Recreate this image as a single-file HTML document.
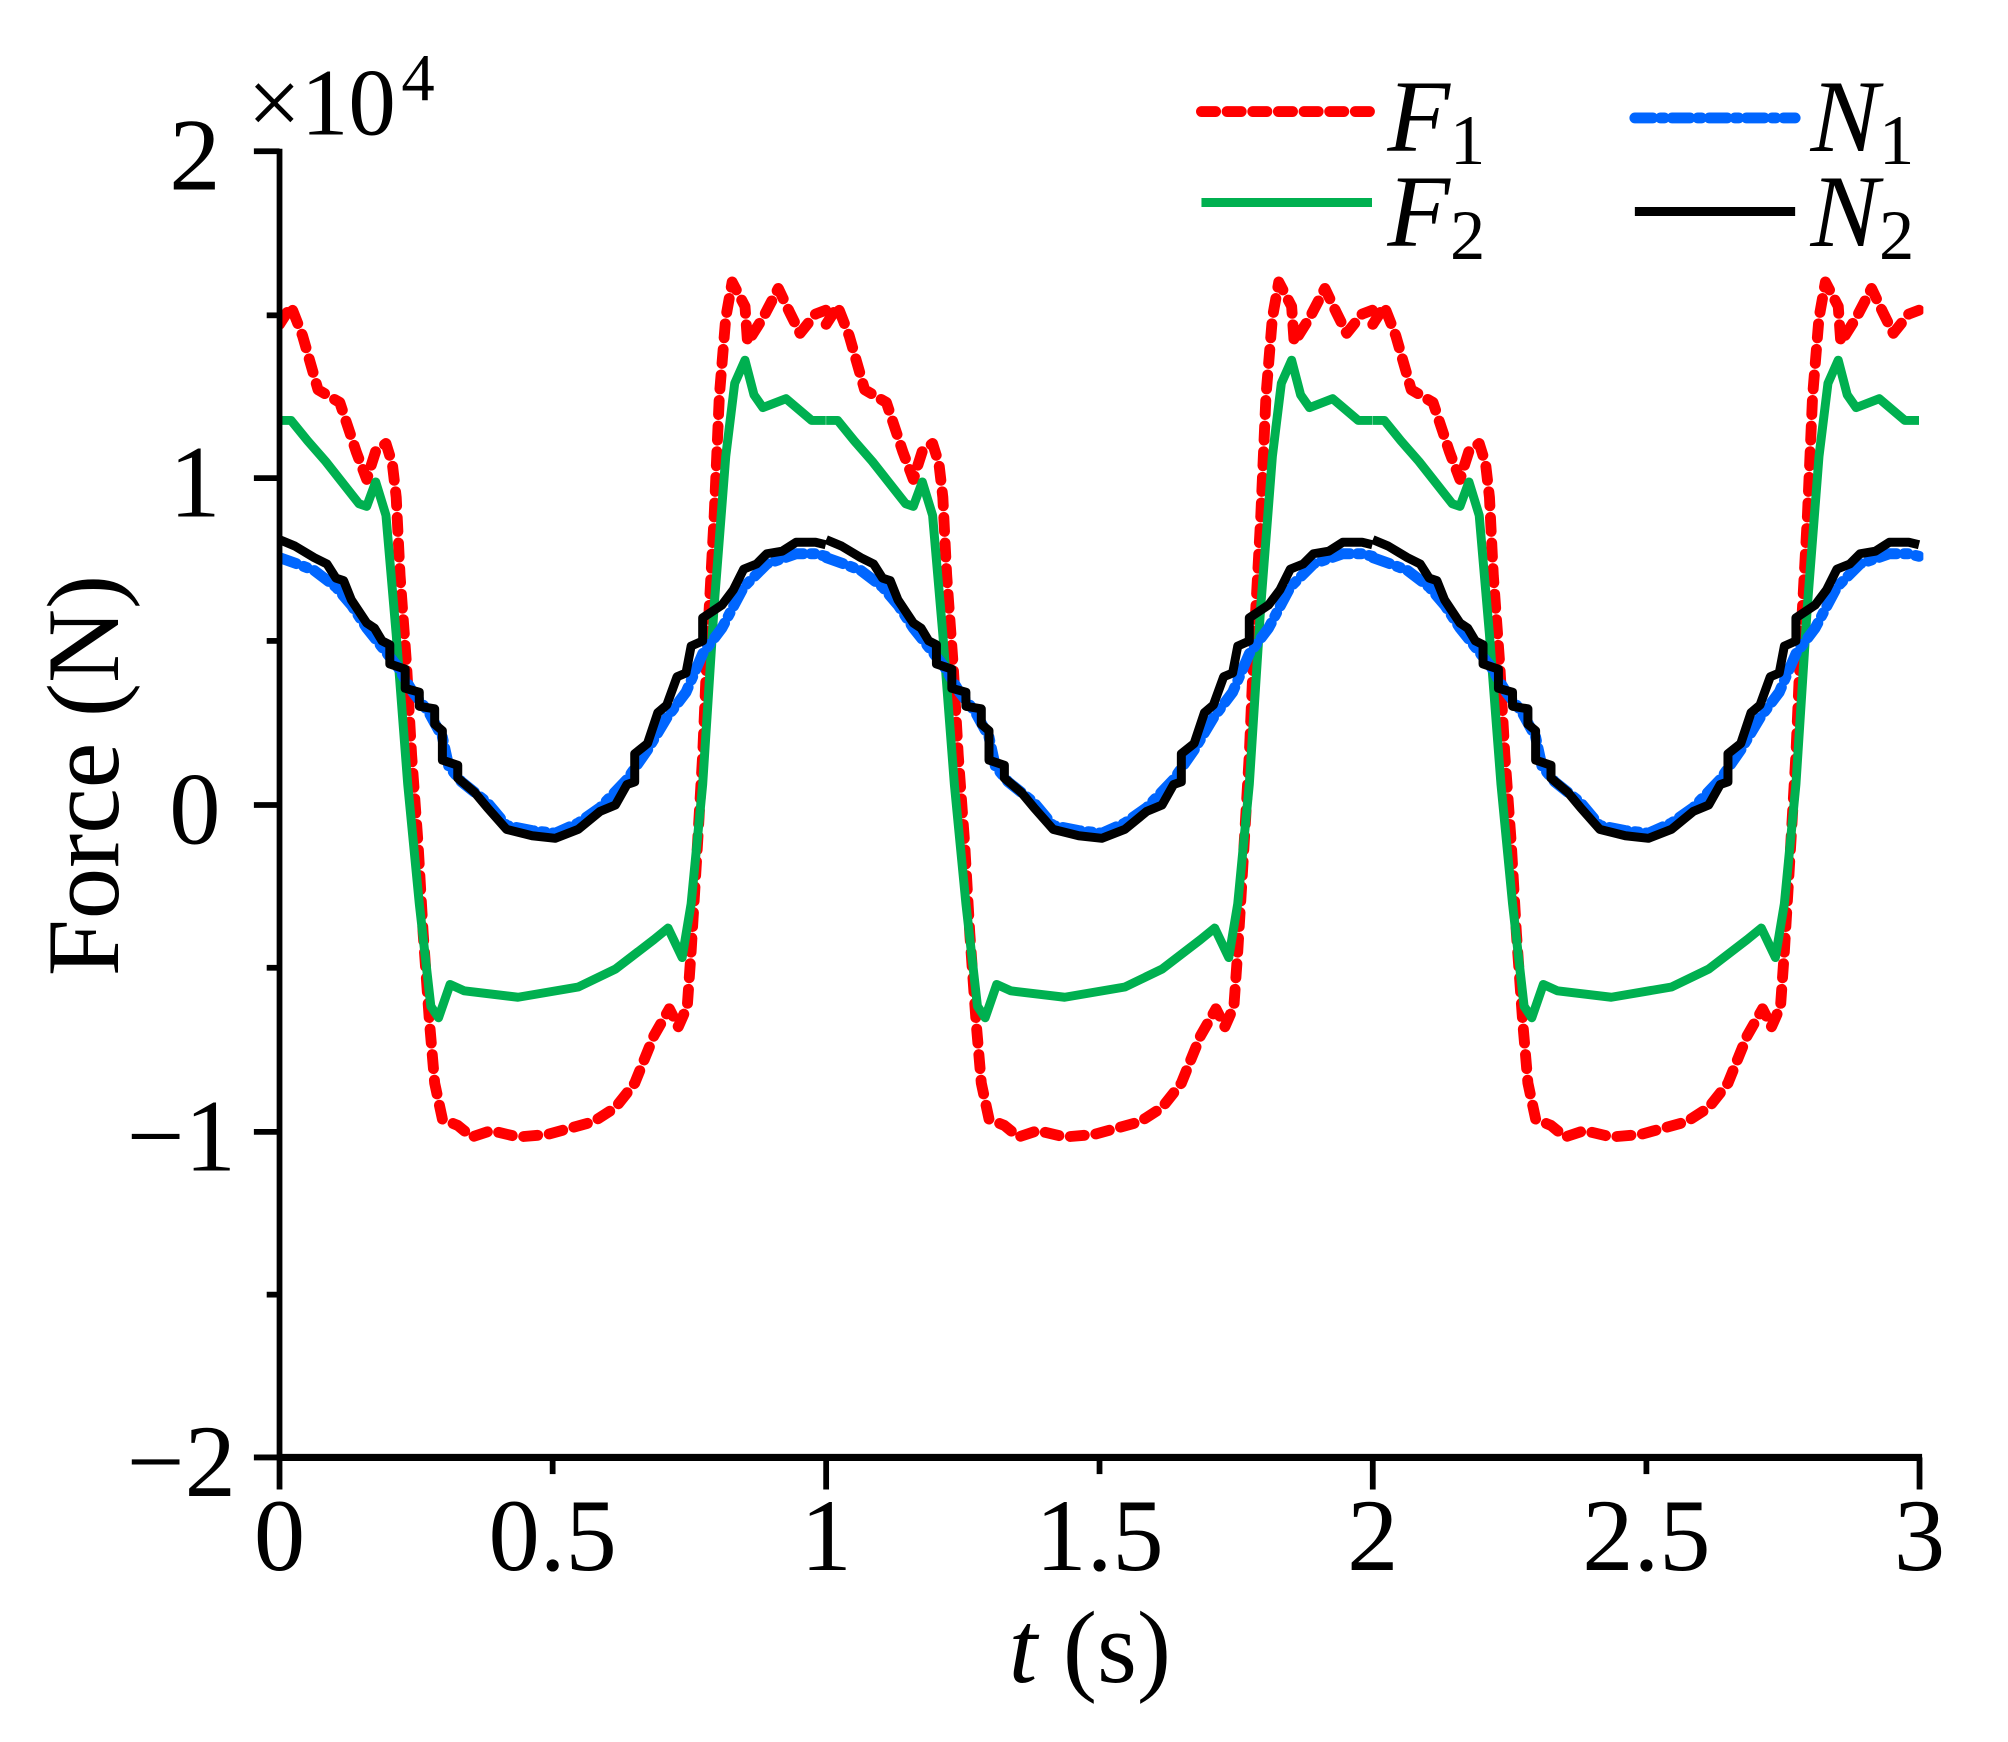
<!DOCTYPE html>
<html><head><meta charset="utf-8"><style>
html,body{margin:0;padding:0;background:#fff;}
svg{display:block;font-family:"Liberation Serif","Times New Roman",Times,serif;}
text{font-family:"Liberation Serif","Times New Roman",Times,serif;fill:#000;}
</style></head><body>
<svg width="2008" height="1742" viewBox="0 0 1566 1359" preserveAspectRatio="none" xmlns="http://www.w3.org/2000/svg">
<defs>
<clipPath id="c"><rect x="216" y="100" width="1284" height="1040"/></clipPath>
<polyline id="red" fill="none" stroke="#ff0000" stroke-width="8.5" stroke-dasharray="11 9" stroke-linecap="round" stroke-linejoin="round" points="218,253 227,239 236,262 248,304 265,314 278,353 286,374 293,352 301,346 306,362 309,388 312,449 317,518 321,589 326,658 330,728 335,798 339,845 345,873 357,878 368,887 383,882 404,887 427,885 463,875 480,864 495,845 510,808 522,787 529,801 536,785 539,742 544,658 548,589 552,495 557,402 561,309 566,248 571,220 581,239 583,267 595,248 607,225 616,244 624,260 636,245 644,242"/>
<polyline id="green" fill="none" stroke="#00b050" stroke-width="7" stroke-linejoin="round" points="218,328 227,328 240,344 254,360 280,393 286,395 293,376 301,402 309,495 318,612 327,705 336,785 342,794 351,768 362,773 404,778 451,770 480,756 510,733 521,724 532,747 539,705 548,612 557,472 566,356 573,299 581,281 588,308 595,318 613,311 633,328 644,328"/>
<polyline id="black" fill="none" stroke="#000" stroke-width="7" stroke-linejoin="round" points="218,421 230,426 245,435 255,440 262,451 268,453 274,468 286,486 292,490 298,500 304,503 304,518 316,522 316,537 327,540 327,551 339,553 339,565 345,570 345,593 357,597 357,607 370,618 380,630 395,647 415,652 433,654 451,647 468,633 480,628 489,612 495,610 495,588 505,580 513,556 520,550 528,528 535,525 539,504 548,500 548,482 563,472 572,460 580,444 590,440 598,432 610,430 621,423 636,423 644,425"/>
<polyline id="blue" fill="none" stroke="#0066ff" stroke-width="8.5" stroke-dasharray="14 6 3 6" stroke-linecap="round" stroke-linejoin="round" points="218,435 232,440 245,445 262,458 274,472 286,490 298,505 310,520 322,540 334,555 345,575 350,598 360,610 380,626 395,644 415,648 433,650 451,642 468,630 489,608 505,585 520,560 535,540 548,510 563,490 580,458 598,440 621,432 636,432 644,434"/>
<g id="per"><use href="#red"/><use href="#green"/><use href="#blue"/><use href="#black"/></g>
</defs>
<g clip-path="url(#c)">
<use href="#per"/>
<use href="#per" x="426.3"/>
<use href="#per" x="852.6"/>
</g>
<line x1="218" y1="116" x2="218" y2="1139" stroke="#000" stroke-width="4.5"/>
<line x1="216" y1="1137" x2="1499" y2="1137" stroke="#000" stroke-width="5.5"/>
<g stroke="#000" stroke-width="4.5">
<line x1="198" y1="118" x2="218" y2="118"/>
<line x1="198" y1="373" x2="218" y2="373"/>
<line x1="198" y1="628" x2="218" y2="628"/>
<line x1="198" y1="883" x2="218" y2="883"/>
<line x1="198" y1="1137" x2="218" y2="1137"/>
<line x1="208" y1="246" x2="218" y2="246"/>
<line x1="208" y1="500" x2="218" y2="500"/>
<line x1="208" y1="755" x2="218" y2="755"/>
<line x1="208" y1="1010" x2="218" y2="1010"/>
<line x1="218" y1="1137" x2="218" y2="1162"/>
<line x1="644.3" y1="1137" x2="644.3" y2="1162"/>
<line x1="1070.6" y1="1137" x2="1070.6" y2="1162"/>
<line x1="1497" y1="1137" x2="1497" y2="1162"/>
<line x1="431" y1="1137" x2="431" y2="1150"/>
<line x1="857.5" y1="1137" x2="857.5" y2="1150"/>
<line x1="1284" y1="1137" x2="1284" y2="1150"/>
</g>
<g font-size="80" text-anchor="end">
<text x="172" y="148">2</text>
<text x="172" y="403">1</text>
<text x="172" y="658">0</text>
<text x="184" y="913">−1</text>
<text x="184" y="1167">−2</text>
</g>
<g font-size="80" text-anchor="middle">
<text x="218" y="1225">0</text>
<text x="431" y="1225">0.5</text>
<text x="644.3" y="1225">1</text>
<text x="857.5" y="1225">1.5</text>
<text x="1070.6" y="1225">2</text>
<text x="1284" y="1225">2.5</text>
<text x="1497" y="1225">3</text>
</g>
<text x="193" y="105" font-size="74">×10</text>
<text x="313" y="78" font-size="52">4</text>
<text transform="translate(92,605) rotate(-90)" font-size="80" text-anchor="middle">Force (N)</text>
<text x="850" y="1312" font-size="80" text-anchor="middle"><tspan font-style="italic">t</tspan> (s)</text>
<line x1="937" y1="87" x2="1070" y2="87" stroke="#ff0000" stroke-width="8.5" stroke-dasharray="11 9" stroke-linecap="round"/>
<line x1="937" y1="158" x2="1070" y2="158" stroke="#00b050" stroke-width="7"/>
<line x1="1275" y1="92" x2="1400" y2="92" stroke="#0066ff" stroke-width="8.5" stroke-dasharray="14 6 3 6" stroke-linecap="round"/>
<line x1="1275" y1="165" x2="1400" y2="165" stroke="#000" stroke-width="7"/>
<text x="1082" y="118" font-size="80" font-style="italic">F<tspan font-size="55" font-style="normal" dy="10">1</tspan></text>
<text x="1082" y="192" font-size="80" font-style="italic">F<tspan font-size="55" font-style="normal" dy="10">2</tspan></text>
<text x="1412" y="118" font-size="80" font-style="italic">N<tspan font-size="55" font-style="normal" dy="10">1</tspan></text>
<text x="1412" y="192" font-size="80" font-style="italic">N<tspan font-size="55" font-style="normal" dy="10">2</tspan></text>
</svg>
</body></html>
